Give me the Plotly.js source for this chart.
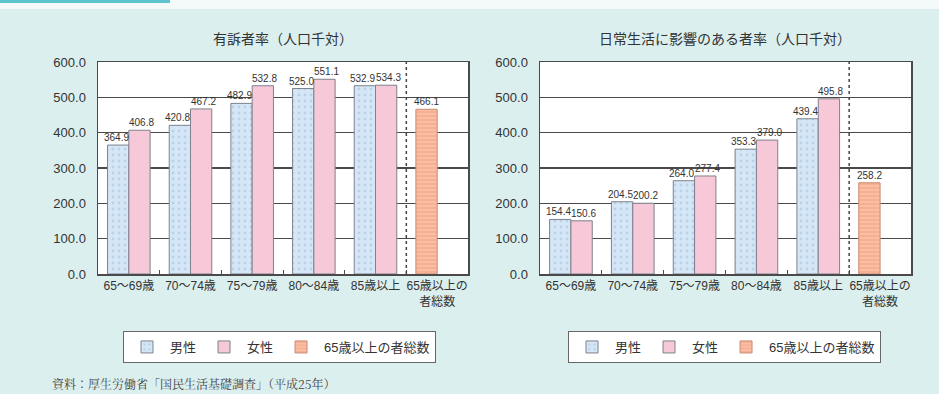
<!DOCTYPE html>
<html>
<head>
<meta charset="utf-8">
<script src="https://cdn.plot.ly/plotly-3.0.1.min.js"></script>
<style>html,body{margin:0;padding:0;background:#dcefef;}#chart{width:939px;height:394px;}</style>
</head>
<body>
<div id="chart"></div>
<script>
const categories = ["65～69歳", "70～74歳", "75～79歳", "80～84歳", "85歳以上", "65歳以上の<br>者総数"];
const ageGroups = categories.slice(0, 5);
const totalCategory = [categories[5]];

const complaintMale = [364.9, 420.8, 482.9, 525.0, 532.9];
const complaintFemale = [406.8, 467.2, 532.8, 551.1, 534.3];
const complaintTotal = [466.1];

const dailyMale = [154.4, 204.5, 264.0, 353.3, 439.4];
const dailyFemale = [150.6, 200.2, 277.4, 379.0, 495.8];
const dailyTotal = [258.2];

const yTickVals = [0, 100, 200, 300, 400, 500, 600];
const yTickText = ["0.0", "100.0", "200.0", "300.0", "400.0", "500.0", "600.0"];

const seriesNames = ["男性", "女性", "65歳以上の者総数"];
const titles = ["有訴者率（人口千対）", "日常生活に影響のある者率（人口千対）"];
const sourceNote = "資料：厚生労働省「国民生活基礎調査」（平成25年）";

const FONT = "Liberation Sans, Arial, Noto Sans CJK JP, sans-serif";
const W = 0.345;

const maleMarker = {color: "#d5e6f6", line: {color: "#7d828c", width: 1},
  pattern: {shape: ".", fillmode: "overlay", fgcolor: "#9fbbd8", size: 6, solidity: 0.18}};
const femaleMarker = {color: "#f7c8d8", line: {color: "#7d828c", width: 1}};
const totalMarker = {color: "#f9bea3", line: {color: "#c98a72", width: 1},
  pattern: {shape: "-", fillmode: "overlay", fgcolor: "#ec8f6c", size: 4, solidity: 0.3}};

function fmt(v) { return v.toFixed(1); }

function traces(male, female, total, xa, ya, leg) {
  const common = {type: "bar", xaxis: xa, yaxis: ya, legend: leg, width: W, hoverinfo: "y"};
  return [
    Object.assign({}, common, {name: seriesNames[0], x: ageGroups, y: male, offset: -W, marker: maleMarker}),
    Object.assign({}, common, {name: seriesNames[1], x: ageGroups, y: female, offset: 0, marker: femaleMarker}),
    Object.assign({}, common, {name: seriesNames[2], x: totalCategory, y: total, offset: -W, marker: totalMarker})
  ];
}

function labels(male, female, total, xa, ya) {
  const base = {xref: xa, yref: ya, showarrow: false, yanchor: "bottom", yshift: 0,
    font: {size: 10, color: "#333", family: FONT}};
  const out = [];
  male.forEach((v, i) => out.push(Object.assign({}, base, {x: i - W / 2, y: v, text: fmt(v), xshift: -2})));
  female.forEach((v, i) => out.push(Object.assign({}, base, {x: i + W / 2, y: v, text: fmt(v), xshift: 2})));
  total.forEach((v) => out.push(Object.assign({}, base, {x: ageGroups.length - W / 2, y: v, text: fmt(v), xshift: 0})));
  return out;
}

const data = [].concat(
  traces(complaintMale, complaintFemale, complaintTotal, "x", "y", "legend"),
  traces(dailyMale, dailyFemale, dailyTotal, "x2", "y2", "legend2")
);

const yDom = [1 - 274/394, 1 - 62/394];
function xAxis(dom, anchor) {
  return {domain: dom, anchor: anchor, type: "category", categoryorder: "array", categoryarray: categories,
    range: [-0.5, 5.5], showgrid: false, showline: true, mirror: true, linecolor: "#4a4a4a", linewidth: 1.5,
    ticks: "inside", tickson: "boundaries", ticklen: 4, tickcolor: "#4a4a4a", tickangle: 0,
    tickfont: {size: 12, color: "#333", family: FONT}, fixedrange: true};
}
function yAxis(dom, anchor) {
  return {domain: dom, anchor: anchor, range: [0, 600], tickvals: yTickVals, ticktext: yTickText,
    showgrid: true, gridcolor: "#4a4a4a", gridwidth: 1.5, showline: true, mirror: true, linecolor: "#4a4a4a", linewidth: 1.5,
    zeroline: false, ticks: "", ticklabelstandoff: 8, tickfont: {size: 13, color: "#333", family: FONT}, fixedrange: true};
}
function legend(x) {
  return {orientation: "h", x: x, y: 1 - 331/394, xanchor: "left", yanchor: "top",
    bgcolor: "#ffffff", bordercolor: "#666", borderwidth: 1,
    font: {size: 13, color: "#333", family: FONT}, itemwidth: 36, traceorder: "normal"};
}

const layout = {
  width: 939, height: 394,
  margin: {l: 0, r: 0, t: 0, b: 0},
  paper_bgcolor: "#dcefef", plot_bgcolor: "#ffffff",
  barmode: "overlay",
  showlegend: true,
  font: {family: FONT, color: "#333"},
  xaxis: xAxis([98/939, 468/939], "y"),
  yaxis: yAxis(yDom, "x"),
  xaxis2: xAxis([540/939, 911/939], "y2"),
  yaxis2: yAxis(yDom, "x2"),
  legend: legend(123/939),
  legend2: legend(568/939),
  shapes: [
    {type: "rect", xref: "paper", yref: "paper", x0: 0, x1: 1, y0: 1 - 9/394, y1: 1, fillcolor: "#f4fafa", line: {width: 0}, layer: "below"},
    {type: "rect", xref: "paper", yref: "paper", x0: 0, x1: 170/939, y0: 1 - 3/394, y1: 1, fillcolor: "#5cc4cf", line: {width: 0}, layer: "below"},
    {type: "line", xref: "x", yref: "y domain", x0: 4.5, x1: 4.5, y0: 0, y1: 1, line: {color: "#444", width: 1.5, dash: "dot"}},
    {type: "line", xref: "x2", yref: "y2 domain", x0: 4.5, x1: 4.5, y0: 0, y1: 1, line: {color: "#444", width: 1.5, dash: "dot"}}
  ],
  annotations: [
    {text: titles[0], xref: "paper", yref: "paper", x: 283/939, y: 1 - 38/394, xanchor: "center", yanchor: "middle",
      showarrow: false, font: {size: 14, color: "#333", family: "Noto Sans CJK JP"}},
    {text: titles[1], xref: "paper", yref: "paper", x: 725/939, y: 1 - 38/394, xanchor: "center", yanchor: "middle",
      showarrow: false, font: {size: 14, color: "#333", family: "Noto Sans CJK JP"}},
    {text: sourceNote, xref: "paper", yref: "paper", x: 50/939, y: 1 - 383/394, xanchor: "left", yanchor: "middle",
      showarrow: false, font: {size: 12, color: "#444", family: "Noto Serif CJK JP, Noto Sans CJK JP, serif"}}
  ].concat(
    labels(complaintMale, complaintFemale, complaintTotal, "x", "y"),
    labels(dailyMale, dailyFemale, dailyTotal, "x2", "y2")
  )
};

Plotly.newPlot("chart", data, layout, {displayModeBar: false, staticPlot: true});
</script>
</body>
</html>
